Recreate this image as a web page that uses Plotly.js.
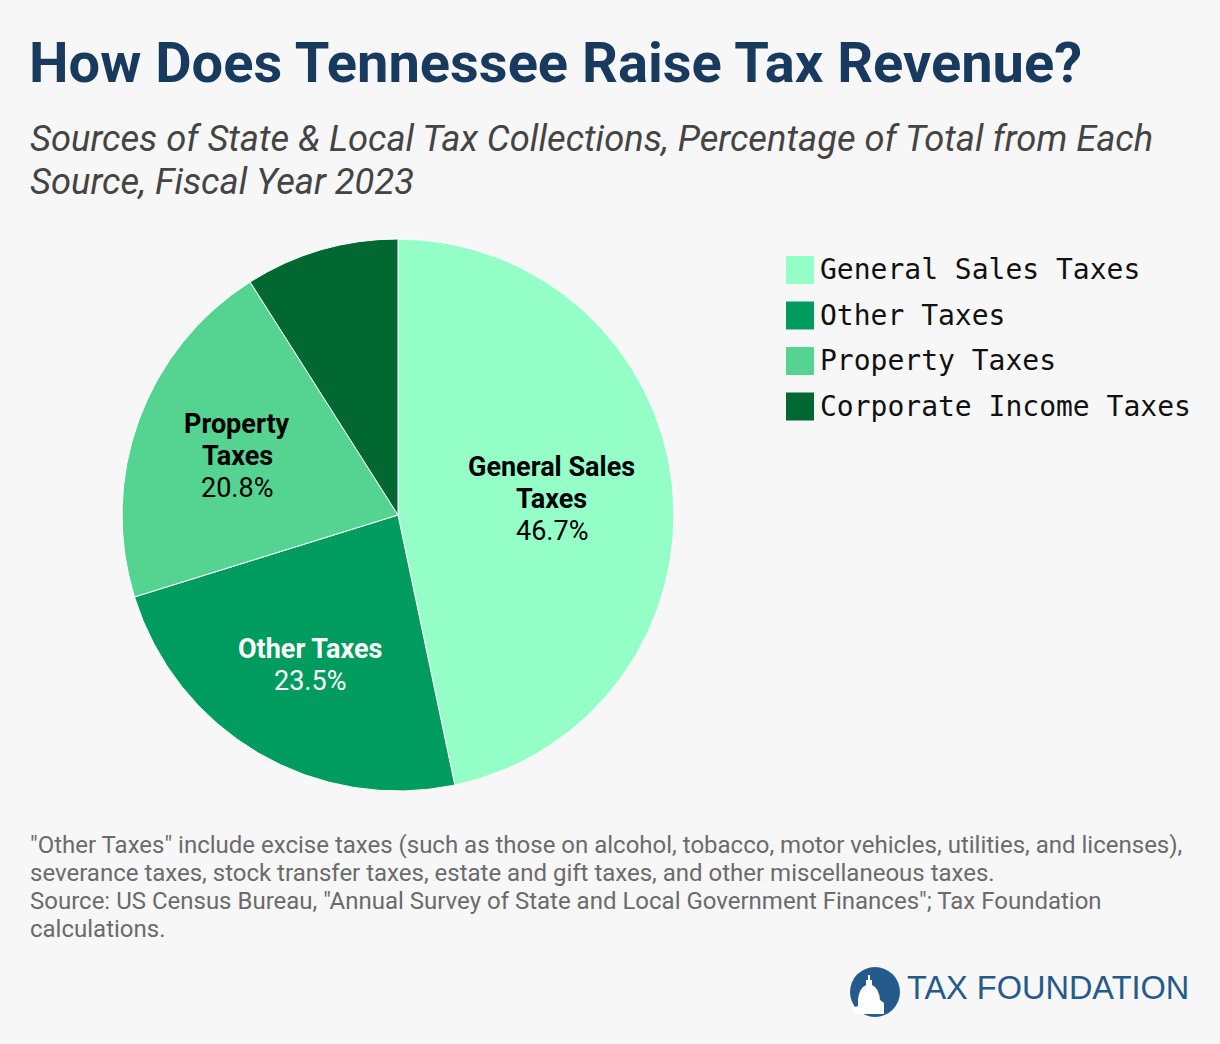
<!DOCTYPE html>
<html>
<head>
<meta charset="utf-8">
<script src="https://cdn.plot.ly/plotly-3.0.1.min.js"></script>
<style>
  html, body { margin: 0; padding: 0; background: #f7f7f7; }
  #chart { width: 1220px; height: 1044px; }
</style>
</head>
<body>
<div id="chart"></div>
<script>
// Tennessee state & local tax collections by source, FY2023 (percent of total)
const categories = ['General Sales Taxes', 'Other Taxes', 'Property Taxes', 'Corporate Income Taxes'];
const shares = [46.7, 23.5, 20.8, 9.0];
const sliceNames = [['General Sales', 'Taxes'], ['Other Taxes'], ['Property', 'Taxes'], []];
const sliceColors = ['#94ffc7', '#009b5e', '#55d391', '#006830'];
const labelColors = ['#000000', '#ffffff', '#000000', '#ffffff'];
// distance of each in-slice label from the centre, as a fraction of the radius
const labelRadius = [0.56, 0.63, 0.62, 0.6];

const subtitleLines = [
  'Sources of State &amp; Local Tax Collections, Percentage of Total from Each',
  'Source, Fiscal Year 2023'
];
const noteLines = [
  '"Other Taxes" include excise taxes (such as those on alcohol, tobacco, motor vehicles, utilities, and licenses),',
  'severance taxes, stock transfer taxes, estate and gift taxes, and other miscellaneous taxes.',
  'Source: US Census Bureau, "Annual Survey of State and Local Government Finances"; Tax Foundation',
  'calculations.'
];

const W = 1220, H = 1044;
const px = x => x / W;
const py = y => 1 - y / H;

// Pie centre and radius in pixels
const cx = 398, cy = 515, R = 276;

const pie = {
  type: 'pie',
  labels: categories,
  values: shares,
  sort: false,
  direction: 'clockwise',
  rotation: 0,
  marker: { colors: sliceColors, line: { color: '#ffffff', width: 1 } },
  textinfo: 'none',
  hoverinfo: 'label+value',
  showlegend: false,
  domain: { x: [px(cx - R), px(cx + R)], y: [py(cy + R), py(cy - R)] }
};

const shapes = [];
const annotations = [];

// In-slice labels, placed along each slice's middle angle; one annotation per line
const total = shares.reduce((a, b) => a + b, 0);
const lineGap = 32;
let cum = 0;
shares.forEach((v, i) => {
  const mid = (cum + v / 2) / total * 2 * Math.PI;
  cum += v;
  if (!sliceNames[i].length) return;
  const r = labelRadius[i] * R;
  const lx = cx + r * Math.sin(mid), ly = cy - r * Math.cos(mid);
  const lines = sliceNames[i].map(s => '<b>' + s + '</b>').concat([v.toFixed(1) + '%']);
  const top = ly - (lines.length - 1) * lineGap / 2;
  lines.forEach((t, k) => {
    annotations.push({
      xref: 'paper', yref: 'paper',
      x: px(lx), y: py(top + k * lineGap),
      xanchor: 'center', yanchor: 'middle', showarrow: false,
      text: t,
      font: { family: 'Roboto', size: 27, color: labelColors[i] }
    });
  });
});

// Legend: square swatches with monospace labels
const legX = 786, legSize = 28, legY0 = 270, legStep = 45.5;
categories.forEach((c, i) => {
  const yc = legY0 + i * legStep;
  shapes.push({
    type: 'rect', xref: 'paper', yref: 'paper',
    x0: px(legX), x1: px(legX + legSize),
    y0: py(yc + legSize / 2), y1: py(yc - legSize / 2),
    fillcolor: sliceColors[i], line: { width: 0 }
  });
  annotations.push({
    xref: 'paper', yref: 'paper', x: px(legX + legSize + 4), y: py(yc),
    xanchor: 'left', yanchor: 'middle', showarrow: false,
    text: c, font: { family: 'DejaVu Sans Mono', size: 28, color: '#111111' }
  });
});

// Subtitle
subtitleLines.forEach((t, i) => {
  annotations.push({
    xref: 'paper', yref: 'paper', x: px(28), y: py(138 + i * 43),
    xanchor: 'left', yanchor: 'middle', align: 'left', showarrow: false,
    text: '<i>' + t + '</i>',
    font: { family: 'Roboto', size: 36.3, color: '#444444' }
  });
});

// Notes and source
noteLines.forEach((t, i) => {
  annotations.push({
    xref: 'paper', yref: 'paper', x: px(28), y: py(845 + i * 28),
    xanchor: 'left', yanchor: 'middle', align: 'left', showarrow: false,
    text: t,
    font: { family: 'Roboto', size: 24, color: '#6b6b6b' }
  });
});

// Logo: round badge with a capitol dome, then the wordmark
const logoCx = 875, logoCy = 992, logoR = 25;
shapes.push({
  type: 'circle', xref: 'paper', yref: 'paper',
  x0: px(logoCx - logoR), x1: px(logoCx + logoR),
  y0: py(logoCy + logoR), y1: py(logoCy - logoR),
  fillcolor: '#255a8c', line: { width: 0 }
});
shapes.push({
  type: 'path', xref: 'paper', yref: 'paper',
  path: [
    'M', px(852), py(1008), 'L', px(858), py(1006), 'L', px(858), py(1000),
    'Q', px(859), py(988), px(866), py(985), 'L', px(866), py(980),
    'L', px(868), py(980), 'L', px(868), py(975), 'L', px(870), py(975),
    'L', px(870), py(980), 'L', px(872), py(980), 'L', px(872), py(985),
    'Q', px(879), py(988), px(880), py(1000), 'L', px(884), py(1003),
    'L', px(884), py(1014), 'L', px(855), py(1014), 'Z'
  ].join(' '),
  fillcolor: '#ffffff', line: { width: 0 }
});
annotations.push({
  xref: 'paper', yref: 'paper', x: px(905), y: py(988),
  xanchor: 'left', yanchor: 'middle', showarrow: false,
  text: 'TAX FOUNDATION',
  font: { family: 'Liberation Sans', size: 32.5, color: '#255a8c' }
});

const layout = {
  width: W, height: H,
  margin: { l: 0, r: 0, t: 0, b: 0 },
  paper_bgcolor: '#f7f7f7',
  plot_bgcolor: '#f7f7f7',
  title: {
    text: '<b>How Does Tennessee Raise Tax Revenue?</b>',
    x: px(29), xanchor: 'left', xref: 'paper',
    y: py(62), yanchor: 'middle', yref: 'container',
    font: { family: 'Roboto', size: 56, color: '#173a5e' }
  },
  shapes: shapes,
  annotations: annotations
};

Plotly.newPlot('chart', [pie], layout, { displayModeBar: false, staticPlot: true });
</script>
</body>
</html>
